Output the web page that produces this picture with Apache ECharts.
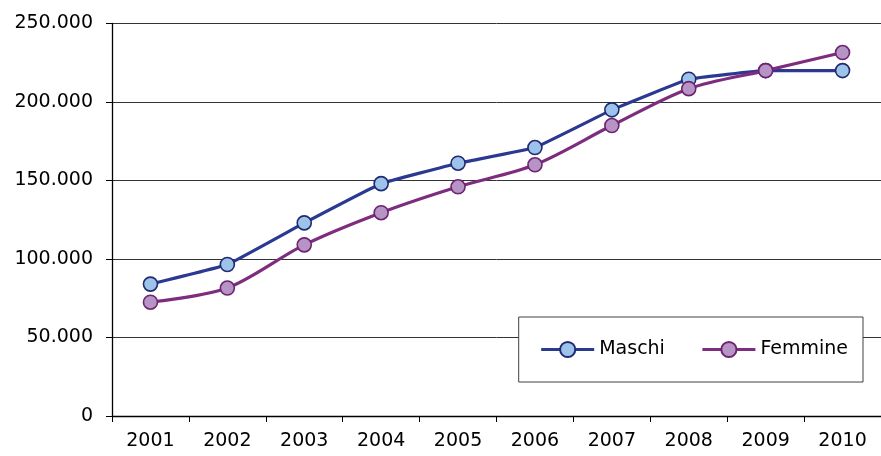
<!DOCTYPE html>
<html>
<head>
<meta charset="utf-8">
<script src="https://cdn.jsdelivr.net/npm/echarts@6/dist/echarts.min.js"></script>
<style>
html,body{margin:0;padding:0;background:#fff;}
#chart{width:881px;height:456px;}
</style>
</head>
<body>
<div id="chart"></div>
<script>
const years = ['2001','2002','2003','2004','2005','2006','2007','2008','2009','2010'];
const maschi = [84000, 96500, 123000, 148000, 161000, 171000, 195000, 214500, 220000, 220000];
const femmine = [72500, 81500, 109000, 129500, 146000, 160000, 185000, 208500, 220000, 231500];
const seriesNames = ['Maschi', 'Femmine'];

const font = 'DejaVu Sans, Verdana, sans-serif';
function fmt(v){
  return String(v).replace(/\B(?=(\d{3})+(?!\d))/g, '.');
}
const chart = echarts.init(document.getElementById('chart'));
chart.setOption({
  animation: false,
  backgroundColor: '#fff',
  grid: { left: 112, top: 23.5, width: 779, height: 392.5, containLabel: false },
  legend: {
    right: 18, top: 317,
    orient: 'horizontal',
    backgroundColor: '#fff',
    borderColor: '#404040',
    borderWidth: 1,
    borderRadius: 0,
    padding: [23, 15, 23, 21],
    itemWidth: 53, itemHeight: 19,
    itemGap: 36,
    textStyle: { fontFamily: font, fontSize: 19, color: '#000' },
    lineStyle: { width: 3 },
    data: seriesNames
  },
  xAxis: {
    type: 'category',
    data: years,
    boundaryGap: true,
    axisLine: { lineStyle: { color: '#000', width: 1.3 } },
    axisTick: { show: true, inside: false, length: 6, alignWithLabel: false, lineStyle: { color: '#000' } },
    axisLabel: { fontFamily: font, fontSize: 19, color: '#000', margin: 16 },
    splitLine: { show: false }
  },
  yAxis: {
    type: 'value',
    min: 0, max: 250000, interval: 50000,
    axisLine: { show: true, lineStyle: { color: '#000', width: 1.3 } },
    axisTick: { show: true, length: 6, lineStyle: { color: '#000' } },
    axisLabel: { fontFamily: font, fontSize: 19, color: '#000', margin: 19, formatter: fmt },
    splitLine: { show: true, lineStyle: { color: '#333', width: 1 } }
  },
  series: [
    {
      name: seriesNames[0], type: 'line', data: maschi,
      smooth: 0.08,
      symbol: 'circle', symbolSize: 14,
      lineStyle: { color: '#2B3990', width: 3.2 },
      itemStyle: { color: '#9DC3EA', borderColor: '#1F2A70', borderWidth: 1.6 },
      z: 2
    },
    {
      name: seriesNames[1], type: 'line', data: femmine,
      smooth: 0.3,
      symbol: 'circle', symbolSize: 14,
      lineStyle: { color: '#7D2C7E', width: 3.2 },
      itemStyle: { color: '#B794C6', borderColor: '#6E2370', borderWidth: 1.6 },
      z: 3
    }
  ]
});
</script>
</body>
</html>
